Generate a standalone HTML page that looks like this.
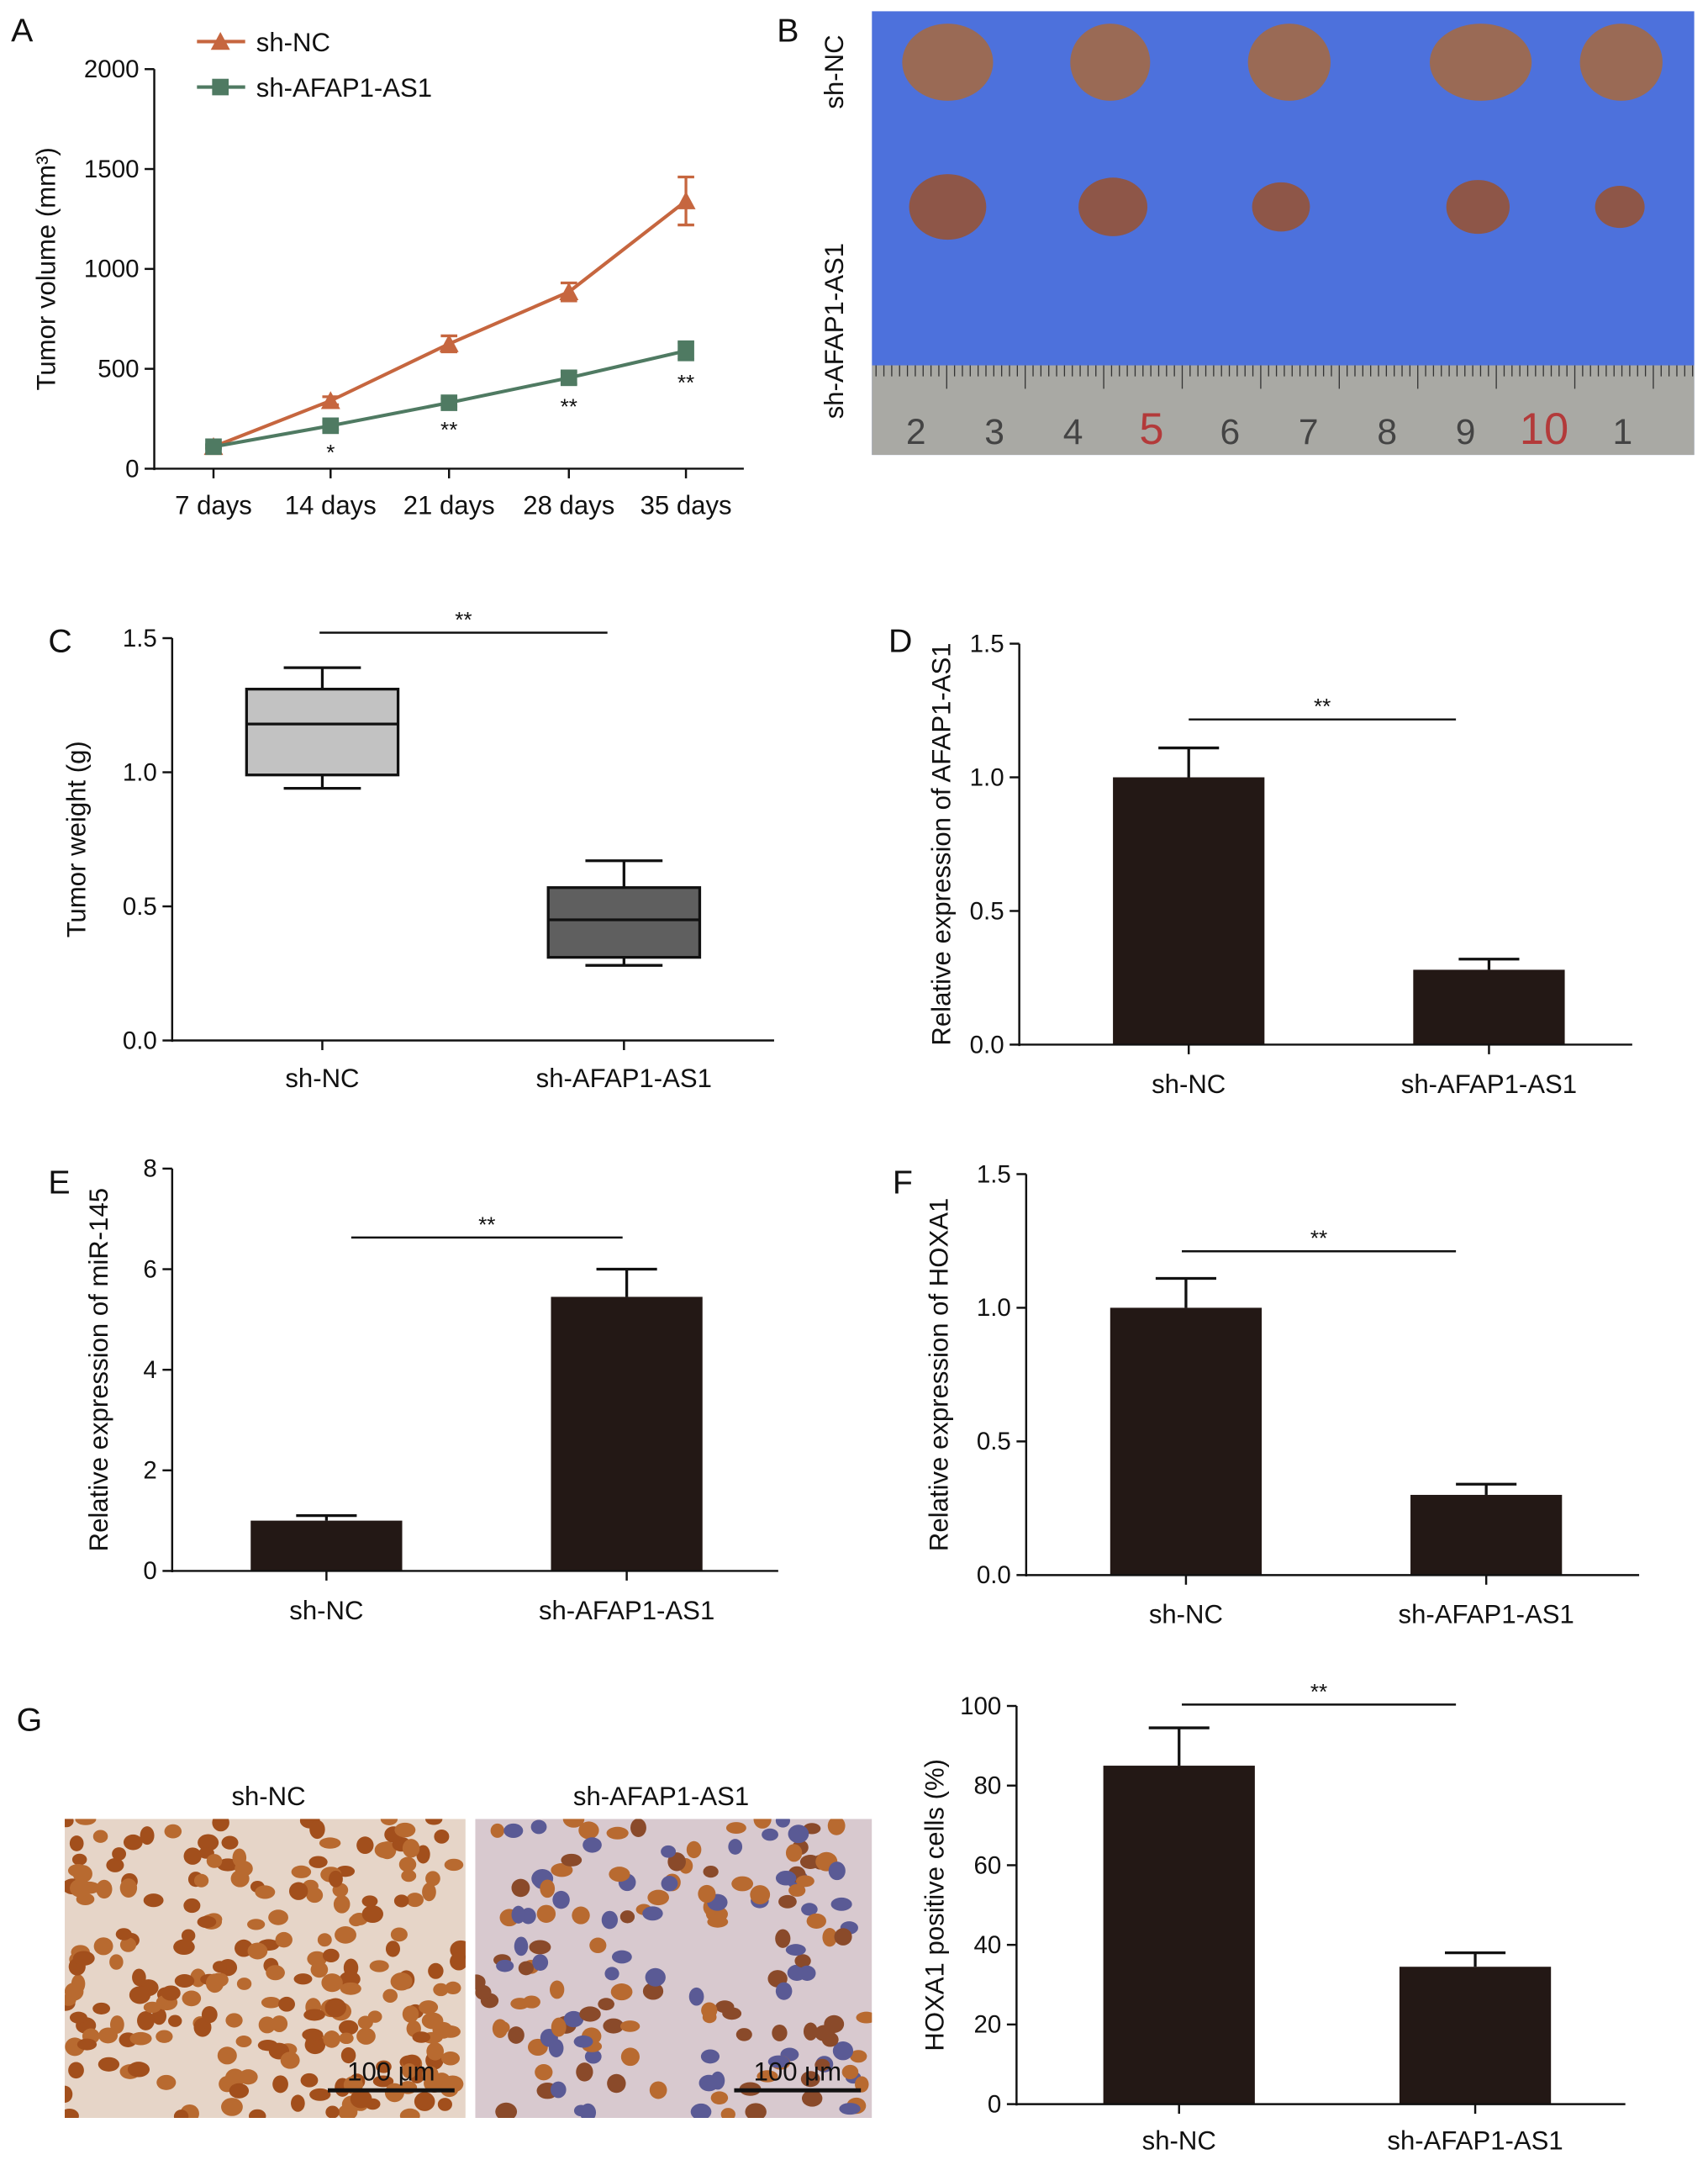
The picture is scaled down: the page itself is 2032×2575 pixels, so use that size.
<!DOCTYPE html>
<html><head><meta charset="utf-8"><style>
html,body{margin:0;padding:0;background:#fff}
svg{display:block;font-family:"Liberation Sans",Arial,sans-serif}
</style></head><body>
<svg id="fig" width="2032" height="2575" viewBox="0 0 1240 1571" xmlns="http://www.w3.org/2000/svg">
<defs>
<clipPath id="clip0"><rect x="47" y="1320" width="291" height="217"/></clipPath>
<clipPath id="clip1"><rect x="345" y="1320" width="288" height="217"/></clipPath>
</defs>
<g id="panels"></g>
</svg>
<script>
// ---- Panel A data ----
const daysA = ["7 days","14 days","21 days","28 days","35 days"];
const ncVol = [110, 340, 625, 885, 1340];
const ncErr = [5, 20, 40, 45, 120];
const kdVol = [110, 215, 330, 455, 590];
const kdErr = [10, 20, 20, 30, 45];
const kdStars = ["", "*", "**", "**", "**"];
const ticksA = [0, 500, 1000, 1500, 2000];
// ---- Panel C data ----
const groups = ["sh-NC", "sh-AFAP1-AS1"];
const boxMin = [0.94, 0.28], boxQ1 = [0.99, 0.31], boxMed = [1.18, 0.45], boxQ3 = [1.31, 0.57], boxMax = [1.39, 0.67];
const ticksC = [0.0, 0.5, 1.0, 1.5];
// ---- Bars ----
const afapVals = [1.0, 0.28], afapErr = [0.11, 0.04];
const mirVals = [1.0, 5.45], mirErr = [0.1, 0.55];
const hoxVals = [1.0, 0.30], hoxErr = [0.11, 0.04];
const posVals = [85, 34.5], posErr = [9.5, 3.5];
const ticks15 = [0.0, 0.5, 1.0, 1.5];
const ticks8 = [0, 2, 4, 6, 8];
const ticks100 = [0, 20, 40, 60, 80, 100];

const NS = "http://www.w3.org/2000/svg";
const root = document.getElementById("panels");
function el(tag, attrs, parent, text) {
  const e = document.createElementNS(NS, tag);
  for (const k in attrs) e.setAttribute(k, attrs[k]);
  if (text !== undefined) e.textContent = text;
  (parent || root).appendChild(e);
  return e;
}
function grp(name) {
  const g = el("g", {});
  
  
  return g;
}
function txt(g, x, y, s, size, anchor, name, extra) {
  const t = el("text", Object.assign({x: x, y: y, "font-size": size, "text-anchor": anchor || "middle", fill: "#111"}, extra || {}), g, s);
  
  
  return t;
}
function line(g, x1, y1, x2, y2, w, c) {
  return el("line", {x1: x1, y1: y1, x2: x2, y2: y2, stroke: c || "#111", "stroke-width": w || 1.5}, g);
}
function letter(s, x, y) { txt(root, x, y, s, 24, "start", "panel-label-" + s.toLowerCase()); }

function yAxis(g, x, y0, y1, vmax, ticks, fmt, title, tx) {
  const sy = v => y0 - (v / vmax) * (y0 - y1);
  line(g, x, y0 + 1, x, y1, 1.5);
  ticks.forEach(t => {
    line(g, x - 7, sy(t), x, sy(t));
    txt(g, x - 11, sy(t) + 6, fmt(t), 18, "end", "y-tick-label");
  });
  txt(g, tx, (y0 + y1) / 2, title, 19, "middle", "y-axis-title", {transform: "rotate(-90 " + tx + " " + (y0 + y1) / 2 + ")"});
  return sy;
}
function xAxis(g, x0, x1, y, cats, xs, labY) {
  line(g, x0, y, x1, y, 1.5);
  cats.forEach((c, i) => {
    line(g, xs[i], y, xs[i], y + 7);
    txt(g, xs[i], labY, c, 19, "middle", "x-tick-label");
  });
}
function sig(g, x1, x2, y) {
  line(g, x1, y, x2, y, 1.5);
  txt(g, (x1 + x2) / 2, y - 4, "**", 16, "middle", "significance-stars");
}
function barChart(name, ax, y0, y1, vmax, ticks, fmt, title, tx, xs, vals, errs, sigX, sigY, axEnd, labY) {
  const g = grp(name);
  const sy = yAxis(g, ax, y0, y1, vmax, ticks, fmt, title, tx);
  vals.forEach((v, i) => {
    const b = el("rect", {x: xs[i] - 55, y: sy(v), width: 110, height: y0 - sy(v), fill: "#231815"}, g);
    
    
    const et = sy(v + errs[i]);
    line(g, xs[i], sy(v), xs[i], et, 2);
    line(g, xs[i] - 22, et, xs[i] + 22, et, 2);
  });
  xAxis(g, ax, axEnd, y0, groups, xs, labY);
  sig(g, sigX[0], sigX[1], sigY);
}

// ---------- Panel A ----------
letter("A", 8, 30);
(function () {
  const g = grp("tumor-volume-chart");
  const sy = yAxis(g, 112, 340, 50, 2000, ticksA, t => String(t), "Tumor volume (mm³)", 40);
  const xs = [155, 240, 326, 413, 498];
  xAxis(g, 112, 540, 340, daysA, xs, 373);
  function series(vals, errs, color, marker, nm) {
    const sg = el("g", {}, g);
    
    
    el("polyline", {points: vals.map((v, i) => xs[i] + "," + sy(v)).join(" "), fill: "none", stroke: color, "stroke-width": 2.5}, sg);
    vals.forEach((v, i) => {
      const top = sy(v + errs[i]), bot = sy(v - errs[i]);
      line(sg, xs[i], top, xs[i], bot, 2, color);
      line(sg, xs[i] - 6, top, xs[i] + 6, top, 2, color);
      line(sg, xs[i] - 6, bot, xs[i] + 6, bot, 2, color);
      const y = sy(v);
      if (marker === "tri") el("polygon", {points: `${xs[i]-7},${y+6} ${xs[i]+7},${y+6} ${xs[i]},${y-7}`, fill: color}, sg);
      else el("rect", {x: xs[i] - 6, y: y - 6, width: 12, height: 12, fill: color}, sg);
    });
  }
  series(ncVol, ncErr, "#c6663f", "tri", "series-sh-nc");
  series(kdVol, kdErr, "#4f7a62", "sq", "series-sh-afap1-as1");
  kdStars.forEach((s, i) => { if (s) txt(g, xs[i], sy(kdVol[i] - kdErr[i]) + 22, s, 16, "middle", "significance-stars"); });
  const lg = grp("legend");
  line(lg, 143, 30, 178, 30, 2.5, "#c6663f");
  el("polygon", {points: "153,36 167,36 160,23", fill: "#c6663f"}, lg);
  txt(lg, 186, 37, "sh-NC", 19, "start", "legend-entry-sh-nc");
  line(lg, 143, 63, 178, 63, 2.5, "#4f7a62");
  el("rect", {x: 154, y: 57, width: 12, height: 12, fill: "#4f7a62"}, lg);
  txt(lg, 186, 70, "sh-AFAP1-AS1", 19, "start", "legend-entry-sh-afap1-as1");
})();

// ---------- Panel B (photo) ----------
letter("B", 564, 30);
(function () {
  const g = grp("tumor-photo");
  el("rect", {x: 633, y: 8, width: 597, height: 322, fill: "#4d71dc"}, g);
  el("rect", {x: 633, y: 265, width: 597, height: 65, fill: "#a9a9a4"}, g);
  for (let x = 636; x < 1230; x += 5.7) line(g, x, 265, x, x % 57 < 6 ? 282 : 273, 0.8, "#333");
  ["2","3","4","5","6","7","8","9","10","1"].forEach((n, i) => {
    const red = n === "5" || n === "10";
    txt(g, 665 + i * 57, 322, n, red ? 32 : 26, "middle", "ruler-number", {fill: red ? "#b33a3a" : "#444"});
  });
  const tx1 = [688, 806, 936, 1075, 1177], r1 = [33, 29, 30, 37, 30];
  const tx2 = [688, 808, 930, 1073, 1176], r2 = [28, 25, 21, 23, 18];
  tx1.forEach((x, i) => el("ellipse", {cx: x, cy: 45, rx: r1[i], ry: 28, fill: "#9a6a55"}, g));
  tx2.forEach((x, i) => el("ellipse", {cx: x, cy: 150, rx: r2[i], ry: r2[i] * 0.85, fill: "#8e5648"}, g));
  txt(g, 612, 52, "sh-NC", 19, "middle", "row-label-sh-nc", {transform: "rotate(-90 612 52)"});
  txt(g, 612, 240, "sh-AFAP1-AS1", 19, "middle", "row-label-sh-afap1-as1", {transform: "rotate(-90 612 240)"});
})();

// ---------- Panel C (box plot) ----------
letter("C", 35, 473);
(function () {
  const g = grp("tumor-weight-boxplot");
  const sy = yAxis(g, 125, 755, 463, 1.5, ticksC, t => t.toFixed(1), "Tumor weight (g)", 62);
  const xs = [234, 453], fills = ["#c2c2c2", "#5f5f5f"];
  groups.forEach((c, i) => {
    const x = xs[i];
    line(g, x, sy(boxMax[i]), x, sy(boxMin[i]), 2);
    line(g, x - 28, sy(boxMax[i]), x + 28, sy(boxMax[i]), 2);
    line(g, x - 28, sy(boxMin[i]), x + 28, sy(boxMin[i]), 2);
    const b = el("rect", {x: x - 55, y: sy(boxQ3[i]), width: 110, height: sy(boxQ1[i]) - sy(boxQ3[i]), fill: fills[i], stroke: "#111", "stroke-width": 2}, g);
    
    
    line(g, x - 55, sy(boxMed[i]), x + 55, sy(boxMed[i]), 2);
  });
  xAxis(g, 125, 562, 755, groups, xs, 789);
  sig(g, 232, 441, 459);
})();

// ---------- Panels D, E, F, G ----------
letter("D", 645, 473);
barChart("afap1-as1-expression-chart", 740, 758, 467, 1.5, ticks15, t => t.toFixed(1), "Relative expression of AFAP1-AS1", 690, [863, 1081], afapVals, afapErr, [863, 1057], 522, 1185, 793);
letter("E", 35, 866);
barChart("mir-145-expression-chart", 125, 1140, 848, 8, ticks8, t => String(t), "Relative expression of miR-145", 78, [237, 455], mirVals, mirErr, [255, 452], 898, 565, 1175);
letter("F", 648, 866);
barChart("hoxa1-expression-chart", 745, 1143, 852, 1.5, ticks15, t => t.toFixed(1), "Relative expression of HOXA1", 688, [861, 1079], hoxVals, hoxErr, [858, 1057], 908, 1190, 1178);
letter("G", 12, 1256);
barChart("hoxa1-positive-cells-chart", 738, 1527, 1238, 100, ticks100, t => String(t), "HOXA1 positive cells (%)", 685, [856, 1071], posVals, posErr, [858, 1057], 1237, 1180, 1560);

// ---------- Panel G histology ----------
(function () {
  const g = grp("ihc-images");
  txt(g, 195, 1310, "sh-NC", 19, "middle", "image-label-sh-nc");
  txt(g, 480, 1310, "sh-AFAP1-AS1", 19, "middle", "image-label-sh-afap1-as1");
  let seed = 7;
  const rnd = () => (seed = (seed * 16807) % 2147483647) / 2147483647;
  [[47, 291, 0.9, "#a24f1c"], [345, 288, 0.6, "#8a4a2a"]].forEach(([x0, w, dens, col], k) => {
    const ig = el("g", {"clip-path": "url(#clip" + k + ")"}, g);
    el("rect", {x: x0, y: 1320, width: w, height: 217, fill: k ? "#d8c9cf" : "#e6d5c8"}, ig);
    const n = Math.round(260 * dens);
    for (let i = 0; i < n; i++) {
      const cx = x0 + rnd() * w, cy = 1320 + rnd() * 217;
      const c = k && rnd() < 0.3 ? "#5a5a95" : (rnd() < 0.5 ? col : "#b86a30");
      el("ellipse", {cx: cx, cy: cy, rx: 5 + rnd() * 3, ry: 4 + rnd() * 3, fill: c}, ig);
    }
    line(g, x0 + w - 100, 1517, x0 + w - 8, 1517, 3);
    txt(g, x0 + w - 54, 1510, "100 μm", 19, "middle", "scale-bar-label");
  });
})();
</script>
</body></html>
